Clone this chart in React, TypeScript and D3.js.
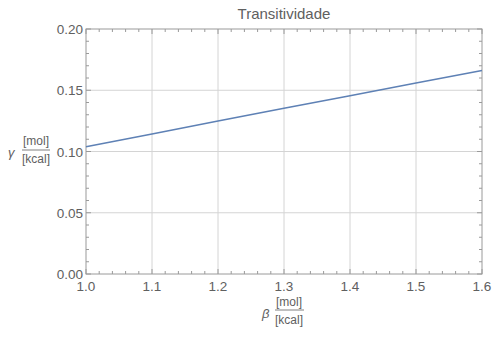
import React from "react";
import * as d3 from "d3";

const betaValues = [1.0, 1.1, 1.2, 1.3, 1.4, 1.5, 1.6];
const gammaValues = [0.1039, 0.1143, 0.1249, 0.1353, 0.1455, 0.1559, 0.1662];
const xTicks = [1.0, 1.1, 1.2, 1.3, 1.4, 1.5, 1.6];
const yTicks = [0.0, 0.05, 0.1, 0.15, 0.2];
const title = "Transitividade";

const W = 492, H = 338;
const m = { left: 86, right: 482, top: 29, bottom: 274 };

export default function App() {
  const x = d3.scaleLinear().domain([1.0, 1.6]).range([m.left, m.right]);
  const y = d3.scaleLinear().domain([0, 0.2]).range([m.bottom, m.top]);
  const line = d3.line<number>().x((_, i) => x(betaValues[i])).y((d) => y(d));
  const xMinor = d3.range(0, 31).map((i) => 1.0 + i * 0.02).filter((v) => Math.round(v * 1000) % 100 !== 0);
  const yMinor = d3.range(0, 21).map((i) => i * 0.01).filter((_, i) => i % 5 !== 0);
  const frame = "#9a9a9a";
  const grid = "#d4d4d4";
  const txt = "#606060";
  const font = "'Liberation Sans', Arial, sans-serif";
  return (
    <svg width={W} height={H} style={{ position: "absolute", left: 0, top: 0 }} fontFamily={font}>
      <rect width={W} height={H} fill="white" />
      {xTicks.slice(1, -1).map((t) => (
        <line key={"gx" + t} x1={x(t)} x2={x(t)} y1={m.top} y2={m.bottom} stroke={grid} strokeWidth={1} />
      ))}
      {yTicks.slice(1, -1).map((t) => (
        <line key={"gy" + t} x1={m.left} x2={m.right} y1={y(t)} y2={y(t)} stroke={grid} strokeWidth={1} />
      ))}
      {xTicks.map((t) => (
        <g key={"xt" + t}>
          <line x1={x(t)} x2={x(t)} y1={m.bottom} y2={m.bottom - 5} stroke={frame} />
          <line x1={x(t)} x2={x(t)} y1={m.top} y2={m.top + 5} stroke={frame} />
        </g>
      ))}
      {xMinor.map((t) => (
        <g key={"xm" + t}>
          <line x1={x(t)} x2={x(t)} y1={m.bottom} y2={m.bottom - 3} stroke={frame} />
          <line x1={x(t)} x2={x(t)} y1={m.top} y2={m.top + 3} stroke={frame} />
        </g>
      ))}
      {yTicks.map((t) => (
        <g key={"yt" + t}>
          <line x1={m.left} x2={m.left + 5} y1={y(t)} y2={y(t)} stroke={frame} />
          <line x1={m.right} x2={m.right - 5} y1={y(t)} y2={y(t)} stroke={frame} />
        </g>
      ))}
      {yMinor.map((t) => (
        <g key={"ym" + t}>
          <line x1={m.left} x2={m.left + 3} y1={y(t)} y2={y(t)} stroke={frame} />
          <line x1={m.right} x2={m.right - 3} y1={y(t)} y2={y(t)} stroke={frame} />
        </g>
      ))}
      <rect x={m.left} y={m.top} width={m.right - m.left} height={m.bottom - m.top} fill="none" stroke={frame} strokeWidth={1} />
      <path d={line(gammaValues) || ""} fill="none" stroke="#5e81b5" strokeWidth={1.5} />
      {xTicks.map((t) => (
        <text key={"xl" + t} x={x(t)} y={m.bottom + 17} textAnchor="middle" fontSize={13.5} fill={txt}>
          {t.toFixed(1)}
        </text>
      ))}
      {yTicks.map((t) => (
        <text key={"yl" + t} x={m.left - 3} y={y(t) + 5} textAnchor="end" fontSize={13.5} fill={txt}>
          {t.toFixed(2)}
        </text>
      ))}
      <text x={284} y={19} textAnchor="middle" fontSize={15} fill={txt}>{title}</text>
      <text x={8} y={157} fontSize={13} fontStyle="italic" fill={txt}>γ</text>
      <text x={36} y={145} textAnchor="middle" fontSize={12} fill={txt}>[mol]</text>
      <line x1={22} x2={50} y1={150} y2={150} stroke={txt} strokeWidth={0.8} />
      <text x={36} y={163} textAnchor="middle" fontSize={12} fill={txt}>[kcal]</text>
      <text x={262} y={318} fontSize={13} fontStyle="italic" fill={txt}>β</text>
      <text x={289} y={306} textAnchor="middle" fontSize={12} fill={txt}>[mol]</text>
      <line x1={275} x2={304} y1={310} y2={310} stroke={txt} strokeWidth={0.8} />
      <text x={289} y={324} textAnchor="middle" fontSize={12} fill={txt}>[kcal]</text>
    </svg>
  );
}
